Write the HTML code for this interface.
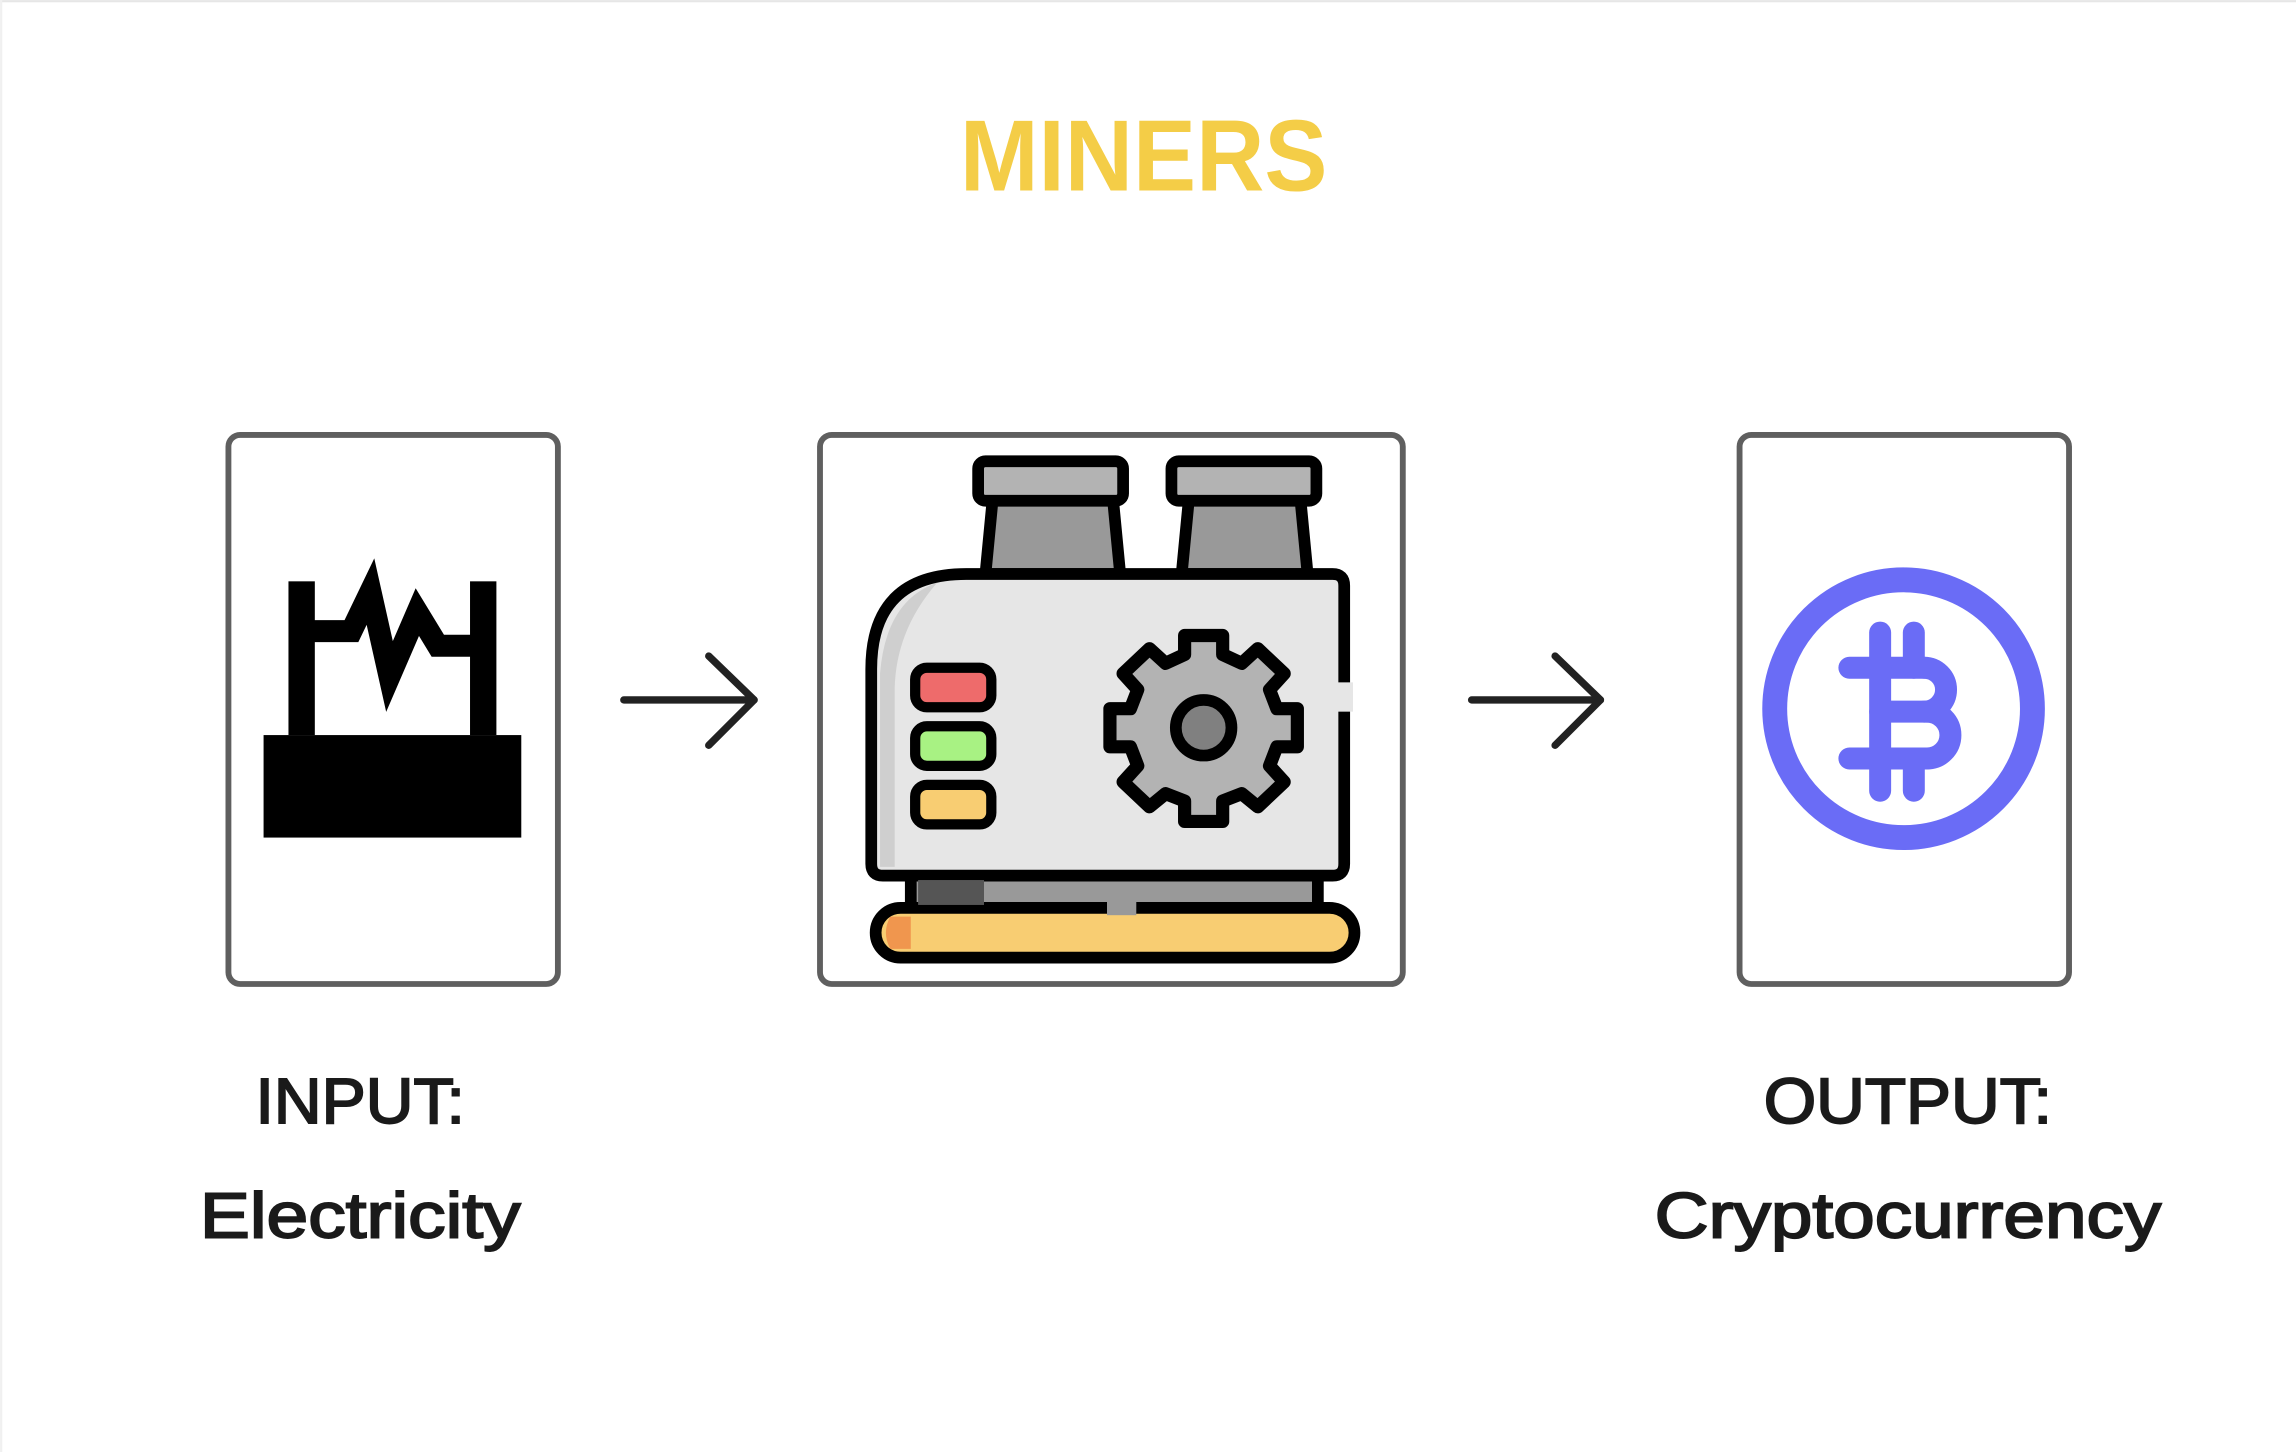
<!DOCTYPE html>
<html><head><meta charset="utf-8"><style>
html,body{margin:0;padding:0;background:#fff;}
svg{display:block;}
</style></head><body>
<svg width="2296" height="1452" viewBox="0 0 1568 991.6" xmlns="http://www.w3.org/2000/svg">
<rect x="0" y="0" width="1568" height="991.6" fill="#fff"/>
<line x1="0" y1="0.8" x2="1568" y2="0.8" stroke="#e6e6e6" stroke-width="1.5"/>
<line x1="0.8" y1="0" x2="0.8" y2="991.6" stroke="#f0f0f0" stroke-width="1.5"/>
<text x="781" y="130" text-anchor="middle" font-family="Liberation Sans, sans-serif" font-weight="bold" font-size="69" fill="#f4cd47" textLength="251" lengthAdjust="spacingAndGlyphs">MINERS</text>

<!-- boxes -->
<rect x="156" y="297" width="225" height="375" rx="8" fill="#fff" stroke="#5f5f5f" stroke-width="4"/>
<rect x="560" y="297" width="398" height="375" rx="8" fill="#fff" stroke="#5f5f5f" stroke-width="4"/>
<rect x="1188" y="297" width="225" height="375" rx="8" fill="#fff" stroke="#5f5f5f" stroke-width="4"/>

<!-- arrows -->
<g stroke="#222" stroke-width="5" fill="none" stroke-linecap="round" stroke-linejoin="round">
<line x1="426" y1="478" x2="515" y2="478"/><polyline points="484,448 515,478 484,509"/>
<line x1="1005" y1="478" x2="1093" y2="478"/><polyline points="1062,448 1093,478 1062,509"/>
</g>

<!-- factory -->
<rect x="180" y="502" width="176" height="70" fill="#000"/>
<rect x="197" y="397" width="18" height="105" fill="#000"/>
<rect x="321" y="397" width="18" height="105" fill="#000"/>
<polyline points="212,431 240,431 253,404 266,462 285,418 299,441 324,441" fill="none" stroke="#000" stroke-width="15" stroke-linejoin="miter"/>

<!-- machine -->
<g stroke="#000" stroke-width="8" stroke-linejoin="round">
<polygon points="678,340 760,340 765,392 673,392" fill="#999"/>
<polygon points="812,340 888,340 893,392 807,392" fill="#999"/>
<rect x="668" y="315" width="99" height="27" rx="5" fill="#b3b3b3"/>
<rect x="800" y="315" width="99" height="27" rx="5" fill="#b3b3b3"/>
<rect x="622" y="596" width="278" height="28" fill="#999"/>
<rect x="598" y="620" width="327" height="34" rx="17" fill="#f8cd72"/>
<path d="M660,392 L910,392 Q918,392 918,400 L918,590 Q918,598 910,598 L603,598 Q595,598 595,590 L595,457 Q595,392 660,392 Z" fill="#e6e6e6"/>
</g>
<rect x="627" y="601" width="45" height="17" fill="#555"/>
<path d="M608,626 L622,626 L622,648 L608,648 Q602,637 608,626Z" fill="#f0964e"/>
<path d="M601,460 Q605,410 640,398 Q612,430 611,470 L611,592 L601,592 Z" fill="#cfcfcf"/>
<rect x="910" y="466" width="14" height="20" fill="#e6e6e6"/>
<rect x="756" y="615" width="20" height="10" fill="#999"/>
<g stroke="#000" stroke-width="7">
<rect x="625" y="456" width="52" height="27" rx="8" fill="#ee6b6b"/>
<rect x="625" y="496" width="52" height="27" rx="8" fill="#a8f283"/>
<rect x="625" y="536" width="52" height="27" rx="8" fill="#f8cd72"/>
</g>
<!-- gear -->
<g transform="translate(822,497)">
<path d="M-13,-63 L13,-63 L13,-50 L26,-44 L37,-54 L55,-37 L45,-26 L50,-13 L64,-13 L64,13 L50,13 L45,26 L55,37 L37,54 L26,45 L13,50 L13,64 L-13,64 L-13,50 L-26,45 L-37,54 L-55,37 L-45,26 L-50,13 L-64,13 L-64,-13 L-50,-13 L-45,-26 L-55,-37 L-37,-54 L-26,-44 L-13,-50 Z" fill="#b3b3b3" stroke="#000" stroke-width="9" stroke-linejoin="round"/>
<circle cx="0" cy="0" r="19" fill="#808080" stroke="#000" stroke-width="8"/>
</g>

<!-- bitcoin -->
<circle cx="1300" cy="484" r="88" fill="none" stroke="#6a6cf6" stroke-width="17"/>
<g stroke="#6a6cf6" stroke-width="15" fill="none" stroke-linecap="round">
<line x1="1263" y1="456" x2="1314" y2="456"/>
<line x1="1284" y1="486" x2="1316" y2="486"/>
<line x1="1263" y1="518" x2="1316" y2="518"/>
<line x1="1284" y1="456" x2="1284" y2="518"/>
<path d="M1314,456 A15,15 0 0 1 1314,486"/>
<path d="M1316,486 A16,16 0 0 1 1316,518"/>
<line x1="1284" y1="432" x2="1284" y2="456"/>
<line x1="1307" y1="432" x2="1307" y2="456"/>
<line x1="1284" y1="518" x2="1284" y2="540"/>
<line x1="1307" y1="518" x2="1307" y2="540"/>
</g>

<!-- labels -->
<g font-family="Liberation Sans, sans-serif" font-size="44" fill="#1a1a1a" stroke="#1a1a1a" stroke-width="1.3" text-anchor="middle">
<text x="246" y="767" textLength="143" lengthAdjust="spacingAndGlyphs">INPUT:</text>
<text x="246" y="845" textLength="219" lengthAdjust="spacingAndGlyphs">Electricity</text>
<text x="1303" y="767" textLength="197" lengthAdjust="spacingAndGlyphs">OUTPUT:</text>
<text x="1303" y="845" textLength="346" lengthAdjust="spacingAndGlyphs">Cryptocurrency</text>
</g>
</svg>
</body></html>
